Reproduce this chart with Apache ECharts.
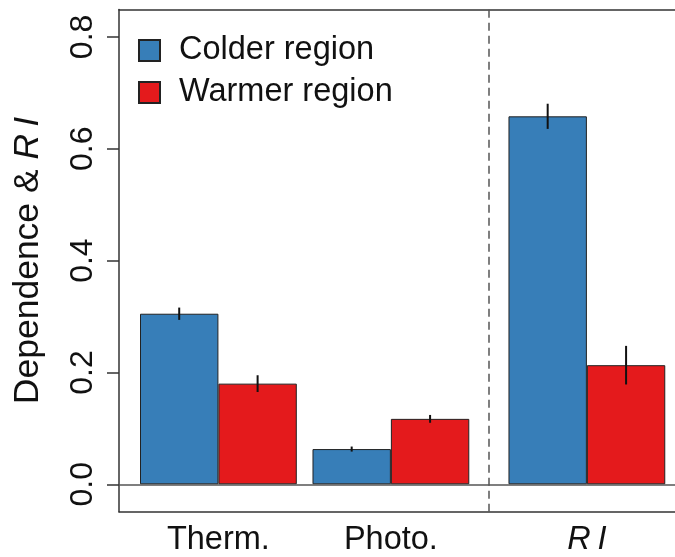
<!DOCTYPE html>
<html>
<head>
<meta charset="utf-8">
<script src="https://cdn.jsdelivr.net/npm/echarts@6/dist/echarts.min.js"></script>
<style>
  html, body { margin: 0; padding: 0; background: #fff; }
  #main { width: 675px; height: 557px; }
</style>
</head>
<body>
<div id="main"></div>
<script>
// group labels and where they sit on the x scale (bar units)
var groups = ['Therm.', 'Photo.', 'RI'];
var groupPos = [1, 3.2, 5.7];
var colderX = [0.5, 2.7, 5.2];
var warmerX = [1.5, 3.7, 6.2];
var dividerX = 4.45;

// values
var colder = [0.305, 0.063, 0.658];
var colderErr = [0.011, 0.0045, 0.0225];
var warmer = [0.180, 0.117, 0.213];
var warmerErr = [0.015, 0.007, 0.0345];

var yTicks = [0, 0.2, 0.4, 0.6, 0.8];

var FONT = '"Liberation Sans", Arial, Helvetica, sans-serif';

function pairs(xs, ys){
	var arr = [];
	for(var i=0; i<xs.length; i++){
		arr.push([xs[i], ys[i]]);
	}
	return arr;
}

function errRows(xs, ys, es){
	var arr = [];
	for(var i=0; i<xs.length; i++){
		arr.push([xs[i], ys[i]-es[i], ys[i]+es[i]]);
	}
	return arr;
}

var errData = errRows(colderX, colder, colderErr).concat(errRows(warmerX, warmer, warmerErr));

var boxLine = { show: true, onZero: false, lineStyle: { color: '#333', width: 1.5 } };

var chart = echarts.init(document.getElementById('main'), null, {renderer: 'canvas'});

var option = {
	animation: false,
	textStyle: { fontFamily: FONT },
	grid: {
		show: false,
		left: 119,
		top: 9.5,
		bottom: 45.3,
		right: 0,
		containLabel: false
	},
	legend: {
		orient: 'vertical',
		left: 138,
		top: 34,
		padding: 0,
		itemWidth: 21,
		itemHeight: 21,
		itemGap: 9,
		icon: 'rect',
		formatter: function(name){ return '{t|' + name + '}'; },
		textStyle: {
			rich: {
				t: { fontFamily: FONT, fontSize: 32.5, color: '#111', lineHeight: 30, padding: [0, 0, 0, 14] }
			}
		},
		data: ['Colder region', 'Warmer region']
	},
	xAxis: [
		{
			type: 'value',
			position: 'bottom',
			min: -0.268,
			max: 6.824,
			splitLine: { show: false },
			axisLine: boxLine,
			axisTick: { show: false },
			axisLabel: {
				customValues: groupPos,
				margin: 12,
				formatter: function(v){
					for(var i=0; i<groupPos.length; i++){
						if(Math.abs(groupPos[i]-v) < 1e-6){
							if(groups[i] == 'RI') return '{it|R}{it2|I}';
							return '{n|' + groups[i] + '}';
						}
					}
					return '';
				},
				rich: {
					n: { fontFamily: FONT, fontSize: 32.5, color: '#111' },
					it: { fontFamily: FONT, fontSize: 32.5, color: '#111', fontStyle: 'italic' },
					it2: { fontFamily: FONT, fontSize: 32.5, color: '#111', fontStyle: 'italic', padding: [0, 0, 0, 7] }
				}
			}
		},
		{
			// top edge of the box only
			type: 'value',
			position: 'top',
			min: -0.268,
			max: 6.824,
			splitLine: { show: false },
			axisLine: boxLine,
			axisTick: { show: false },
			axisLabel: { show: false }
		}
	],
	yAxis: {
		type: 'value',
		min: -0.049,
		max: 0.849,
		splitLine: { show: false },
		axisLine: boxLine,
		axisTick: {
			show: true,
			customValues: yTicks,
			length: 12,
			lineStyle: { color: '#333', width: 1.5 }
		},
		axisLabel: {
			customValues: yTicks,
			rotate: 90,
			margin: 20,
			fontFamily: FONT,
			fontSize: 32,
			color: '#111',
			formatter: function(v){ return v.toFixed(1); }
		},
		name: '{n|Dependence & }{it|R}{it2|I}',
		nameLocation: 'middle',
		nameRotate: 90,
		nameGap: 73,
		nameTextStyle: {
			rich: {
				n: { fontFamily: FONT, fontSize: 35.5, color: '#111' },
				it: { fontFamily: FONT, fontSize: 35.5, color: '#111', fontStyle: 'italic' },
				it2: { fontFamily: FONT, fontSize: 35.5, color: '#111', fontStyle: 'italic', padding: [0, 0, 0, 7] }
			}
		}
	},
	series: [
		{
			name: 'Colder region',
			type: 'bar',
			barWidth: 78.4,
			barGap: '-100%',
			data: pairs(colderX, colder),
			itemStyle: { color: '#377EB8', borderColor: '#222', borderWidth: 1 }
		},
		{
			name: 'Warmer region',
			type: 'bar',
			barWidth: 78.4,
			barGap: '-100%',
			data: pairs(warmerX, warmer),
			itemStyle: { color: '#E41A1C', borderColor: '#222', borderWidth: 1 }
		},
		{
			name: 'err',
			type: 'custom',
			z: 5,
			data: errData,
			renderItem: function(params, api){
				var a = api.coord([api.value(0), api.value(1)]);
				var b = api.coord([api.value(0), api.value(2)]);
				return {
					type: 'line',
					shape: { x1: a[0], y1: a[1], x2: b[0], y2: b[1] },
					style: { stroke: '#111', lineWidth: 2 }
				};
			},
			markLine: {
				silent: true,
				symbol: 'none',
				label: { show: false },
				data: [
					{ xAxis: dividerX, lineStyle: { color: '#555', width: 1.5, type: [8, 5] } },
					{ yAxis: 0, lineStyle: { color: '#555', width: 1.5, type: 'solid' } }
				]
			}
		}
	]
};

chart.setOption(option);
</script>
</body>
</html>
